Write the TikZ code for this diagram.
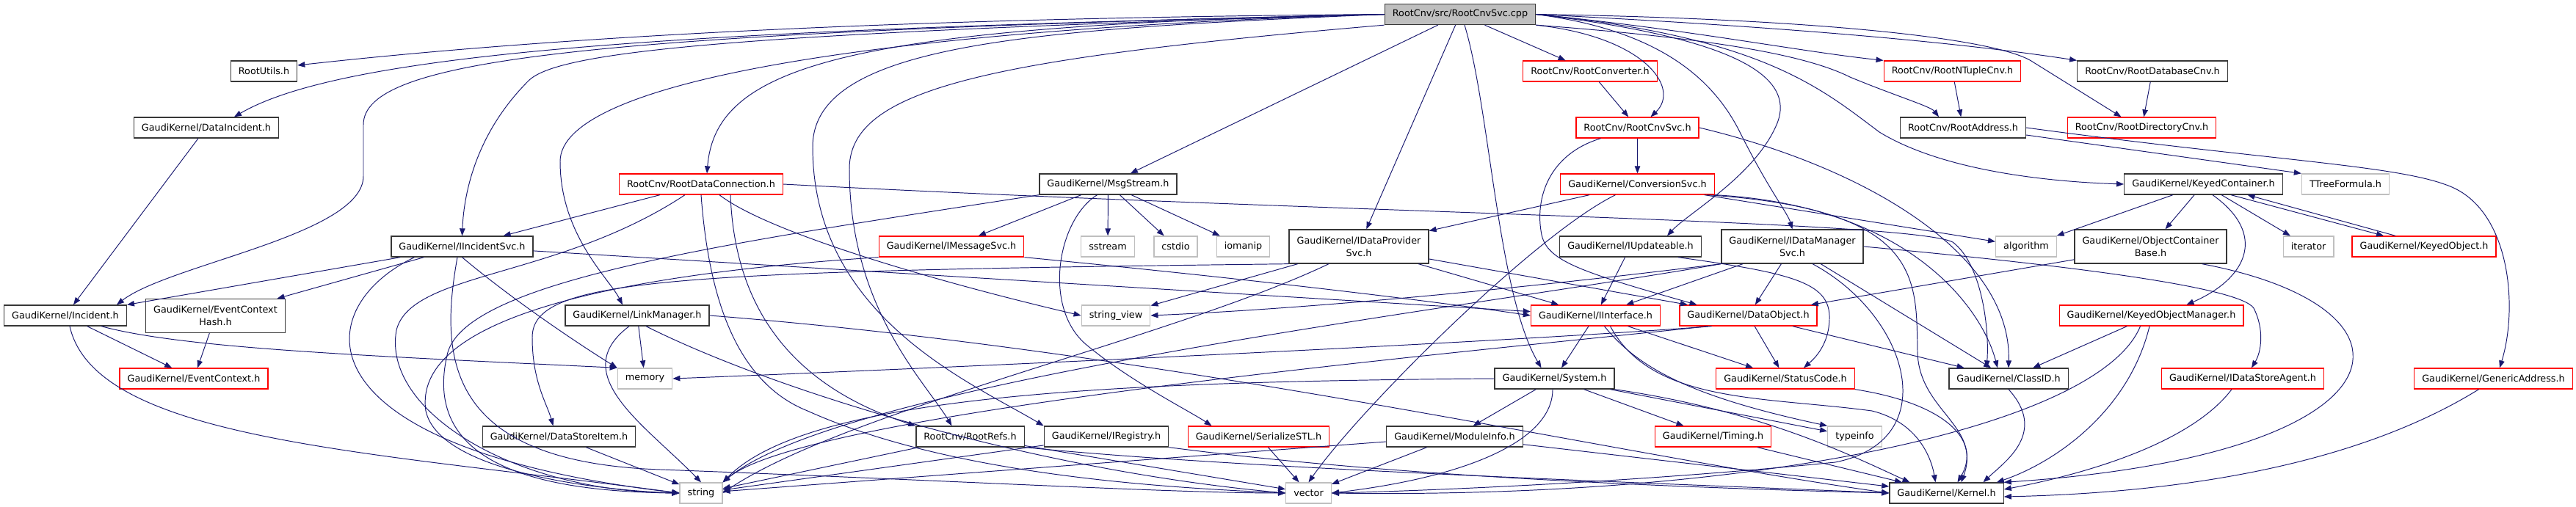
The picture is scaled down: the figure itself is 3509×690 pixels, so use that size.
\documentclass[tikz,border=0pt]{standalone}
\usepackage{fontspec}
\setmainfont{DejaVu Sans}
\usetikzlibrary{arrows.meta}

\definecolor{edgeblue}{RGB}{25,25,112}
\definecolor{boxgrey}{RGB}{191,191,191}
\definecolor{boxdark}{RGB}{55,55,55}

\tikzset{
  hdr/.style={draw=boxdark, line width=0.75pt, rectangle, minimum height=0.56cm,
    inner xsep=6pt, inner ysep=0pt, font=\fontsize{7.27}{9.7}\selectfont},
  trunc/.style={hdr, draw=red},
  sysh/.style={hdr, draw=boxgrey},
  srcfile/.style={hdr, fill=boxgrey},
  twoline/.style={align=center, minimum height=0.92cm},
  dep/.style={draw=edgeblue, line width=0.55pt, -{Triangle[length=0.2cm,width=0.15cm]}},
}

\begin{document}
\begin{tikzpicture}[x=0.02cm, y=-0.02cm]
  \path[fill=white] (0,0) rectangle (3509,690);

  % the source file
  \node[srcfile] (cpp) at (1989,19.5) {RootCnv/src/RootCnvSvc.cpp};

  % first row of headers
  \node[hdr]   (rutils) at (359.5,97) {RootUtils.h};
  \node[trunc] (rconv)  at (2166,97)  {RootCnv/RootConverter.h};
  \node[trunc] (rntup)  at (2659.5,97) {RootCnv/RootNTupleCnv.h};
  \node[hdr]   (rdbcnv) at (2932,97)  {RootCnv/RootDatabaseCnv.h};

  % second row
  \node[hdr]   (dinc)  at (281,174)    {GaudiKernel/DataIncident.h};
  \node[trunc] (rsvc)  at (2230.5,174) {RootCnv/RootCnvSvc.h};
  \node[hdr]   (raddr) at (2674,174)   {RootCnv/RootAddress.h};
  \node[trunc] (rdir)  at (2917.5,174) {RootCnv/RootDirectoryCnv.h};

  % third row
  \node[trunc] (rdc)   at (955,251)    {RootCnv/RootDataConnection.h};
  \node[hdr]   (msg)   at (1509.5,251) {GaudiKernel/MsgStream.h};
  \node[trunc] (csvc)  at (2230.5,251) {GaudiKernel/ConversionSvc.h};
  \node[hdr]   (kcont) at (3001.5,251) {GaudiKernel/KeyedContainer.h};
  \node[sysh]  (ttree) at (3195,251)   {TTreeFormula.h};

  % fourth row
  \node[hdr]   (iisvc)   at (629.5,336)  {GaudiKernel/IIncidentSvc.h};
  \node[trunc] (imsg)    at (1296,336)   {GaudiKernel/IMessageSvc.h};
  \node[sysh]  (sstream) at (1509,336)   {sstream};
  \node[sysh]  (cstdio)  at (1601.5,336) {cstdio};
  \node[sysh]  (iomanip) at (1693.5,336) {iomanip};
  \node[hdr, twoline] (idps) at (1851,336) {GaudiKernel/IDataProvider\\Svc.h};
  \node[hdr]   (iupd)    at (2221,336)   {GaudiKernel/IUpdateable.h};
  \node[hdr, twoline] (idms) at (2441.5,336) {GaudiKernel/IDataManager\\Svc.h};
  \node[sysh]  (algo)    at (2760,336)   {algorithm};
  \node[hdr, twoline] (ocb) at (2929.5,336) {GaudiKernel/ObjectContainer\\Base.h};
  \node[sysh]  (iter)    at (3144.5,336) {iterator};
  \node[trunc] (kobj)    at (3302,336)   {GaudiKernel/KeyedObject.h};

  % fifth row
  \node[hdr]   (inc)    at (89,430)     {GaudiKernel/Incident.h};
  \node[hdr, twoline] (echash) at (293.5,430.5) {GaudiKernel/EventContext\\Hash.h};
  \node[hdr]   (lnk)    at (868,430)    {GaudiKernel/LinkManager.h};
  \node[sysh]  (sview)  at (1520,430)   {string\_view};
  \node[trunc] (iif)    at (2173.5,430) {GaudiKernel/IInterface.h};
  \node[trunc] (dobj)   at (2381.5,430) {GaudiKernel/DataObject.h};
  \node[trunc] (kom)    at (2930.5,430) {GaudiKernel/KeyedObjectManager.h};

  % sixth row
  \node[trunc] (ectx)   at (264,516)    {GaudiKernel/EventContext.h};
  \node[sysh]  (memory) at (878.5,516)  {memory};
  \node[hdr]   (sys)    at (2117.5,516) {GaudiKernel/System.h};
  \node[trunc] (scode)  at (2432,516)   {GaudiKernel/StatusCode.h};
  \node[hdr]   (clid)   at (2736,516)   {GaudiKernel/ClassID.h};
  \node[trunc] (idsa)   at (3055,516)   {GaudiKernel/IDataStoreAgent.h};
  \node[trunc] (gaddr)  at (3396.5,516) {GaudiKernel/GenericAddress.h};

  % seventh row
  \node[hdr]   (dsi)    at (761.5,595)  {GaudiKernel/DataStoreItem.h};
  \node[hdr]   (rrefs)  at (1321.5,595) {RootCnv/RootRefs.h};
  \node[hdr]   (ireg)   at (1507,595)   {GaudiKernel/IRegistry.h};
  \node[trunc] (sstl)   at (1714.5,595) {GaudiKernel/SerializeSTL.h};
  \node[hdr]   (minfo)  at (1981.5,595) {GaudiKernel/ModuleInfo.h};
  \node[trunc] (timing) at (2333.5,595) {GaudiKernel/Timing.h};
  \node[sysh]  (tinfo)  at (2526.5,595) {typeinfo};

  % bottom row
  \node[sysh] (str)    at (955,672)    {string};
  \node[sysh] (vec)    at (1782.5,672) {vector};
  \node[hdr]  (kernel) at (2651.5,672) {GaudiKernel/Kernel.h};

  % includes of the source file, to the left
  \draw[dep] (cpp.west) .. controls (1300,24) and (800,45) .. ([yshift=0.16cm]rutils.east);
  \draw[dep] (cpp.west) .. controls (1000,40) and (480,65) .. ([xshift=0.76cm]dinc.north);
  \draw[dep] (cpp.west) .. controls (800,45) and (495,80) .. (495,170) -- (495,240)
             .. controls (495,320) and (230,360) .. ([xshift=1.4cm]inc.north);
  \draw[dep] (cpp.west) .. controls (1000,45) and (760,70) .. (720,110)
             .. controls (650,180) and (632,260) .. (iisvc.north);
  \draw[dep] (cpp.west) .. controls (1200,40) and (763,110) .. (763,220)
             .. controls (763,320) and (830,380) .. ([xshift=-0.4cm]lnk.north);
  \draw[dep] (cpp.west) .. controls (1150,35) and (975,90) .. ([xshift=0.16cm]rdc.north);
  \draw[dep] (cpp.south west) .. controls (1350,80) and (1157,120) .. (1157,230)
             .. controls (1157,420) and (1260,520) .. ([xshift=-0.5cm]rrefs.north);
  \draw[dep] (cpp.west) .. controls (1400,40) and (1107,60) .. (1107,200)
             .. controls (1107,430) and (1320,520) .. (ireg.north west);
  \draw[dep] (cpp) -- (msg);
  \draw[dep] (cpp) -- (idps);
  \draw[dep] ([xshift=0.12cm]cpp.south) .. controls (2030,150) and (2040,400) .. ([xshift=-0.36cm]sys.north);

  % includes of the source file, to the right
  \draw[dep] (cpp) -- (rconv);
  \draw[dep] (cpp.south east) .. controls (2240,50) and (2290,120) .. ([xshift=0.36cm]rsvc.north);
  \draw[dep] (cpp.east) .. controls (2350,50) and (2450,100) .. (2420,170)
             .. controls (2390,240) and (2300,290) .. ([xshift=1cm]iupd.north);
  \draw[dep] (cpp.east) .. controls (2250,40) and (2330,100) .. (2370,180)
             .. controls (2410,260) and (2435,290) .. (idms.north);
  \draw[dep] (cpp.east) .. controls (2300,40) and (2450,70) .. (rntup.north west);
  \draw[dep] (cpp.south east) .. controls (2300,50) and (2450,70) .. (2520,105)
             .. controls (2580,130) and (2630,145) .. ([xshift=-0.66cm]raddr.north);
  \draw[dep] (cpp.east) .. controls (2400,35) and (2650,55) .. (rdbcnv.north west);
  \draw[dep] (cpp.east) .. controls (2450,25) and (2720,50) .. (2770,85) -- ([xshift=-0.56cm]rdir.north);
  \draw[dep] (cpp.east) .. controls (2400,50) and (2480,120) .. (2560,180)
             .. controls (2650,235) and (2800,248) .. (kcont.west);

  % incident headers
  \draw[dep] (dinc) -- (inc);
  \draw[dep] (iisvc) -- (inc);
  \draw[dep] (iisvc) -- (echash);
  \draw[dep] (iisvc.south) .. controls (700,410) and (790,470) .. (memory.north west);
  \draw[dep] (iisvc) -- (iif);
  \draw[dep] ([xshift=-1.3cm]iisvc.south) .. controls (420,420) and (400,610) .. (str.west);
  \draw[dep] ([xshift=-0.13cm]iisvc.south) .. controls (600,480) and (600,630) .. (900,640)
             .. controls (1300,655) and (1600,672) .. (vec.west);
  \draw[dep] (echash) -- (ectx);
  \draw[dep] (inc) -- (ectx);
  \draw[dep] ([xshift=0.12cm]inc.south) .. controls (130,600) and (500,615) .. (str.west);
  \draw[dep] ([xshift=0.98cm]inc.south) .. controls (250,475) and (500,485) .. (memory.north west);

  % link manager and data store item
  \draw[dep] (lnk) -- (memory);
  \draw[dep] ([xshift=-0.22cm]lnk.south) .. controls (770,510) and (880,580) .. (str.north);
  \draw[dep] ([xshift=0.24cm]lnk.south) .. controls (1050,530) and (1400,640) .. (vec.west);
  \draw[dep] (lnk.east) .. controls (1600,480) and (2200,620) .. (kernel.west);
  \draw[dep] (dsi) -- (str);

  % data connection
  \draw[dep] (rdc) -- (iisvc);
  \draw[dep] ([xshift=-0.44cm]rdc.south) .. controls (760,380) and (560,370) .. (540,450)
             .. controls (520,560) and (700,670) .. (str.west);
  \draw[dep] (rdc.south) .. controls (965,400) and (1000,520) .. (1100,560)
             .. controls (1300,650) and (1600,665) .. (vec.west);
  \draw[dep] ([xshift=0.8cm]rdc.south) .. controls (1000,400) and (1060,520) .. (rrefs.north west);
  \draw[dep] ([xshift=0.5cm]rdc.south) .. controls (1050,320) and (1300,390) .. (sview.west);
  \draw[dep] (rdc.east) .. controls (1800,290) and (2600,300) .. (2660,330)
             .. controls (2700,360) and (2710,450) .. ([xshift=-0.6cm]clid.north);
  \draw[dep] (rrefs) -- (str);
  \draw[dep] (rrefs) -- (vec);
  \draw[dep] (rrefs.south east) .. controls (1700,640) and (2300,660) .. (kernel.west);
  \draw[dep] (ireg) -- (str);
  \draw[dep] (ireg.south east) .. controls (1900,650) and (2300,665) .. (kernel.west);

  % message stream
  \draw[dep] (msg) -- (imsg);
  \draw[dep] (msg) -- (sstream);
  \draw[dep] (msg) -- (cstdio);
  \draw[dep] (msg) -- (iomanip);
  \draw[dep] (msg.south west) .. controls (1000,330) and (640,380) .. (610,480)
             .. controls (570,640) and (750,670) .. (str.west);
  \draw[dep] ([xshift=-0.3cm]msg.south) .. controls (1440,300) and (1420,420) .. (1480,470)
             .. controls (1540,520) and (1620,560) .. ([xshift=-1.28cm]sstl.north);
  \draw[dep] (imsg.south east) .. controls (1700,380) and (1950,410) .. (iif.west);
  \draw[dep] (imsg.south west) .. controls (900,370) and (560,420) .. (580,560)
             .. controls (600,650) and (850,670) .. (str.west);
  \draw[dep] (sstl) -- (vec);

  % data provider and conversion service
  \draw[dep] (idps.south west) .. controls (900,370) and (725,380) .. (725,460)
             .. controls (725,520) and (745,550) .. ([xshift=-0.16cm]dsi.north);
  \draw[dep] (idps) -- (sview);
  \draw[dep] ([xshift=-0.82cm]idps.south) .. controls (1600,460) and (1150,560) .. (str.east);
  \draw[dep] (idps) -- (iif);
  \draw[dep] (idps) -- (dobj);
  \draw[dep] (csvc) -- (idps);
  \draw[dep] ([xshift=-0.6cm]csvc.south) .. controls (2090,320) and (1850,560) .. (vec.north);
  \draw[dep] (csvc) -- (algo);
  \draw[dep] (csvc.south east) .. controls (2600,280) and (2700,420) .. ([xshift=-0.3cm]clid.north);
  \draw[dep] ([xshift=1.9cm]csvc.south) .. controls (2620,285) and (2610,380) .. (2612,480)
             .. controls (2614,560) and (2700,580) .. ([xshift=0.4cm]kernel.north);

  % converter service
  \draw[dep] (rconv) -- (rsvc);
  \draw[dep] (rsvc) -- (csvc);
  \draw[dep] ([xshift=-1cm]rsvc.south) .. controls (2110,210) and (2090,270) .. (2100,320)
             .. controls (2108,355) and (2150,370) .. ([xshift=-1.4cm]dobj.north);
  \draw[dep] (rsvc.east) .. controls (2550,230) and (2740,350) .. (clid.north);

  % updateable and data manager
  \draw[dep] (iupd) -- (iif);
  \draw[dep] ([xshift=1.3cm]iupd.south) .. controls (2440,372) and (2490,385) .. (2492,430)
             .. controls (2493,470) and (2470,490) .. ([xshift=0.5cm]scode.north);
  \draw[dep] (idms) -- (iif);
  \draw[dep] (idms) -- (dobj);
  \draw[dep] (idms) -- (clid);
  \draw[dep] ([xshift=0.55cm]idms.south) .. controls (2600,430) and (2650,600) .. (2500,630)
             .. controls (2200,660) and (1900,670) .. (vec.east);
  \draw[dep] (idms.south west) .. controls (2100,390) and (1800,420) .. (sview.east);
  \draw[dep] (idms.south west) .. controls (2000,420) and (1150,520) .. (str.north east);
  \draw[dep] (idms.east) .. controls (2800,360) and (3050,390) .. (3070,420)
             .. controls (3085,450) and (3080,480) .. ([xshift=0.24cm]idsa.north);

  % interface, system and friends
  \draw[dep] (iif) -- (sys);
  \draw[dep] (iif) -- (scode);
  \draw[dep] ([xshift=0.24cm]iif.south) .. controls (2230,500) and (2300,540) .. (tinfo.north west);
  \draw[dep] ([xshift=0.4cm]iif.south) .. controls (2250,550) and (2400,540) .. (2550,560)
             .. controls (2610,575) and (2630,620) .. ([xshift=-0.3cm]kernel.north);
  \draw[dep] (dobj) -- (clid);
  \draw[dep] (dobj) -- (scode);
  \draw[dep] ([xshift=-1cm]dobj.south) .. controls (2000,470) and (1200,505) .. (memory.east);
  \draw[dep] ([xshift=-1.1cm]dobj.south) .. controls (2000,480) and (1100,560) .. (str.north east);
  \draw[dep] (sys) -- (minfo);
  \draw[dep] (sys) -- (timing);
  \draw[dep] (sys) -- (tinfo);
  \draw[dep] (sys.south east) .. controls (2400,560) and (2520,620) .. ([xshift=-1cm]kernel.north);
  \draw[dep] (sys.west) .. controls (1500,520) and (1100,540) .. (str.north east);
  \draw[dep] ([xshift=-0.05cm]sys.south) .. controls (2115,600) and (2000,650) .. (vec.east);
  \draw[dep] (minfo) -- (str);
  \draw[dep] (minfo) -- (vec);
  \draw[dep] (minfo) -- (kernel);
  \draw[dep] (timing) -- (kernel);
  \draw[dep] (scode.south east) .. controls (2650,550) and (2700,600) .. ([xshift=0.3cm]kernel.north);
  \draw[dep] (clid.south) .. controls (2790,590) and (2730,630) .. ([xshift=1cm]kernel.north);

  % keyed container
  \draw[dep] (kcont) -- (algo);
  \draw[dep] (kcont) -- (ocb);
  \draw[dep] (kcont) -- (iter);
  \draw[dep] ([xshift=0.75cm]kcont.south) -- ([xshift=-1.1cm]kobj.north);
  \draw[dep] ([xshift=-0.78cm]kobj.north) -- ([xshift=1.2cm]kcont.south);
  \draw[dep] ([xshift=0.25cm]kcont.south) .. controls (3090,320) and (3060,380) .. ([xshift=0.96cm]kom.north);
  \draw[dep] (ocb) -- (dobj);
  \draw[dep] ([xshift=1.4cm]ocb.south) .. controls (3320,420) and (3290,620) .. (kernel.north east);
  \draw[dep] (kom) -- (clid);
  \draw[dep] ([xshift=-0.05cm]kom.south) .. controls (2900,560) and (2800,630) .. ([xshift=-0.2cm]kernel.north east);
  \draw[dep] ([xshift=-0.3cm]kom.south) .. controls (2860,580) and (2400,680) .. (vec.east);
  \draw[dep] ([xshift=-0.3cm]idsa.south) .. controls (2980,610) and (2820,650) .. ([yshift=0.1cm]kernel.east);

  % root address and converters
  \draw[dep] (rntup) -- (raddr);
  \draw[dep] (rdbcnv) -- (rdir);
  \draw[dep] ([yshift=-0.2cm]raddr.east) -- (ttree.north west);
  \draw[dep] (raddr.east) .. controls (3100,220) and (3270,225) .. (3340,255)
             .. controls (3420,290) and (3430,420) .. ([xshift=0.17cm]gaddr.north);
  \draw[dep] ([xshift=-0.4cm]gaddr.south) .. controls (3200,640) and (2950,672) .. ([yshift=-0.1cm]kernel.east);
\end{tikzpicture}
\end{document}
